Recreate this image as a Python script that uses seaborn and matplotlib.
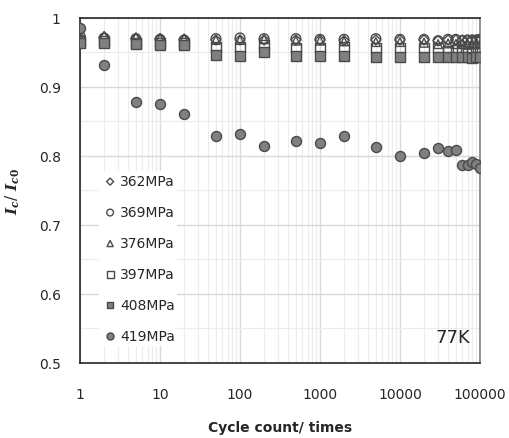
import numpy as np
import pandas as pd
import matplotlib
matplotlib.use("Agg")
import matplotlib.pyplot as plt
import seaborn as sns
from matplotlib.ticker import FixedLocator, FuncFormatter, LogLocator, NullFormatter

cycles = [1, 2, 5, 10, 20, 50, 100, 200, 500, 1000, 2000, 5000, 10000,
          20000, 30000, 40000, 50000, 60000, 70000, 80000, 90000, 100000]

s362 = [0.972, 0.972, 0.970, 0.970, 0.969, 0.968, 0.968, 0.968, 0.968, 0.968, 0.967,
        0.968, 0.968, 0.968, 0.967, 0.968, 0.968, 0.968, 0.968, 0.968, 0.968, 0.968]
s369 = [0.974, 0.971, 0.970, 0.969, 0.968, 0.970, 0.971, 0.970, 0.970, 0.969, 0.969,
        0.970, 0.969, 0.969, 0.967, 0.969, 0.969, 0.967, 0.968, 0.968, 0.968, 0.969]
s376 = [0.972, 0.974, 0.972, 0.970, 0.970, 0.968, 0.968, 0.969, 0.967, 0.967, 0.966,
        0.965, 0.965, 0.964, 0.962, 0.963, 0.962, 0.962, 0.961, 0.962, 0.962, 0.962]
s397 = [0.966, 0.966, 0.964, 0.963, 0.963, 0.958, 0.958, 0.961, 0.957, 0.957, 0.958,
        0.956, 0.956, 0.956, 0.957, 0.952, 0.953, 0.952, 0.952, 0.951, 0.951, 0.952]
s408 = [0.963, 0.964, 0.962, 0.960, 0.960, 0.946, 0.945, 0.950, 0.945, 0.945, 0.945,
        0.944, 0.944, 0.944, 0.944, 0.943, 0.943, 0.943, 0.943, 0.942, 0.943, 0.944]
s419 = [0.985, 0.932, 0.878, 0.875, 0.860, 0.829, 0.832, 0.815, 0.821, 0.819, 0.829,
        0.813, 0.800, 0.804, 0.812, 0.807, 0.809, 0.787, 0.787, 0.791, 0.788, 0.783]

labels = ["362MPa", "369MPa", "376MPa", "397MPa", "408MPa", "419MPa"]
series = [s362, s369, s376, s397, s408, s419]
markers = ["D", "o", "^", "s", "s", "o"]
sizes = [26, 48, 40, 52, 48, 52]
faces = ["none", "none", "none", "none", "#808080", "#808080"]

xticks = [1, 10, 100, 1000, 10000, 100000]
yticks = [0.5, 0.6, 0.7, 0.8, 0.9, 1.0]

df = pd.DataFrame({
    "cycle": np.tile(cycles, len(labels)),
    "ratio": np.concatenate(series),
    "stress": np.repeat(labels, len(cycles)),
})

sns.set_theme(style="white")
plt.rcParams["font.family"] = ["DejaVu Sans"]
plt.rcParams["mathtext.fontset"] = "custom"
plt.rcParams["mathtext.it"] = "DejaVu Serif:italic:bold"
plt.rcParams["mathtext.rm"] = "DejaVu Serif:bold"

fig = plt.figure(figsize=(5.10, 4.39), dpi=100)
ax = fig.add_axes([0.157, 0.171, 0.784, 0.786])

edge = "#4a4a4a"
for lab, m, s, fc in zip(labels, markers, sizes, faces):
    sub = df[df["stress"] == lab]
    sns.scatterplot(data=sub, x="cycle", y="ratio", ax=ax, marker=m, s=s,
                    facecolor=fc, edgecolor=edge, linewidth=1.0, label=lab,
                    zorder=3)

ax.set_xscale("log")
ax.set_xlim(1, 100000)
ax.set_ylim(0.5, 1.0)

ax.xaxis.set_major_locator(FixedLocator(xticks))
ax.xaxis.set_major_formatter(FuncFormatter(lambda v, p: f"{int(round(v))}"))
ax.xaxis.set_minor_locator(LogLocator(base=10, subs=np.arange(2, 10), numticks=20))
ax.xaxis.set_minor_formatter(NullFormatter())
ax.yaxis.set_major_locator(FixedLocator(yticks))
ax.yaxis.set_minor_locator(FixedLocator([0.55, 0.65, 0.75, 0.85, 0.95]))
ax.yaxis.set_major_formatter(FuncFormatter(lambda v, p: "1" if abs(v - 1) < 1e-9 else f"{v:.1f}"))

ax.grid(True, which="major", axis="both", color="#d9d9d9", linewidth=1.0, zorder=0)
ax.grid(True, which="minor", axis="both", color="#ececec", linewidth=0.8, zorder=0)
ax.set_axisbelow(True)

ax.tick_params(axis="both", which="major", direction="in", length=4, width=1,
               color="#404040", labelsize=10, labelcolor="#262626", pad=14)
ax.tick_params(axis="x", which="major", pad=17)
ax.tick_params(axis="both", which="minor", direction="in", length=3, width=0.6,
               color="#bfbfbf")
ax.tick_params(axis="y", which="minor", length=4, color="#404040", width=1)

for side in ["top", "left", "bottom"]:
    ax.spines[side].set_color("#262626")
    ax.spines[side].set_linewidth(1.2)
ax.spines["right"].set_color("#808080")
ax.spines["right"].set_linewidth(1.2)

ax.set_xlabel("Cycle count/ times", fontsize=10, fontweight="bold", color="#262626",
              labelpad=14)
ax.set_ylabel(r"$I_c$/ $I_{c0}$", fontsize=11, color="#262626", labelpad=12)

leg = ax.legend(loc="upper left", bbox_to_anchor=(0.03, 0.575), frameon=True,
                fontsize=10, labelspacing=1.22, handletextpad=0.1,
                markerscale=0.7, borderpad=0.2, handlelength=1.2)
leg.get_frame().set_facecolor("white")
leg.get_frame().set_edgecolor("none")
leg.get_frame().set_alpha(1.0)
for t in leg.get_texts():
    t.set_color("#262626")

ax.text(0.975, 0.05, "77K", transform=ax.transAxes, ha="right", va="bottom",
        fontsize=13, color="#262626")

fig.savefig("out.png", dpi=100)
